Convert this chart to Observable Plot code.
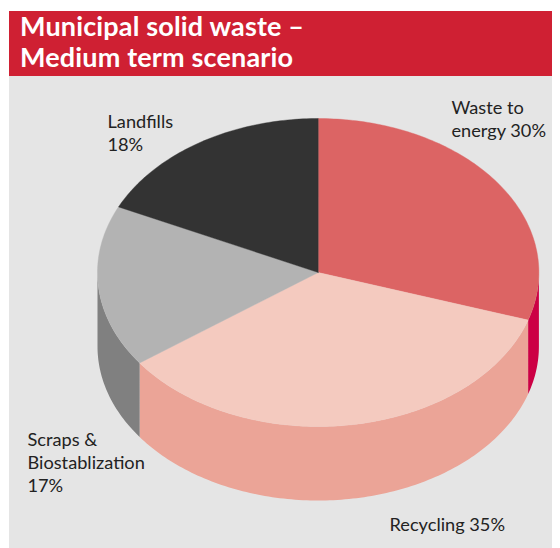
<!DOCTYPE html>
<html>
<head>
<meta charset="utf-8">
<script src="https://cdn.jsdelivr.net/npm/d3@7"></script>
<script src="https://cdn.jsdelivr.net/npm/@observablehq/plot@0.6"></script>
<style>
  html, body { margin: 0; padding: 0; background: #fff; }
  #frame { position: absolute; left: 9px; top: 11px; width: 543px; height: 537px; background: #e5e5e5; }
  #title { box-sizing: border-box; height: 65px; padding: 0 0 0 11px; background: #cf2033; color: #fff;
           font: 700 27px/30.5px Lato, sans-serif; letter-spacing: 0.15px; }
  #chart svg { display: block; background: transparent; }
</style>
</head>
<body>
<div id="frame">
  <div id="title">Municipal solid waste –<br>Medium term scenario</div>
  <div id="chart"></div>
</div>
<script>
// Shares of municipal solid waste, clockwise from twelve o'clock
const categories = ["Waste to energy", "Recycling", "Scraps & Biostablization", "Landfills"];
const shares = [30, 35, 17, 18];
const topColors = ["#dc6464", "#f4cabf", "#b3b3b3", "#333333"];
const sideColors = ["#cc0044", "#eba497", "#808080", "#1f1f1f"];

// Label text and where each block starts, in panel pixels
const labelTexts = [
  `Waste to\nenergy ${shares[0]}%`,
  `Recycling ${shares[1]}%`,
  `Scraps &\nBiostablization\n${shares[2]}%`,
  `Landfills\n${shares[3]}%`
];
const labelX = [442, 380, 18, 98];
const labelY = [21, 438, 353, 35];

// Tilted-disc geometry, in panel pixels
const width = 543, height = 472;
const cx = 308.7, cy = 196, rx = 220.7, ry = 154, depth = 74;

const rim = (deg, drop = 0) => {
  const t = deg * Math.PI / 180;
  return {x: cx + rx * Math.sin(t), y: cy - ry * Math.cos(t) + drop};
};
const arc = (from, to, drop = 0) => {
  const pts = [];
  const n = Math.max(1, Math.ceil(Math.abs(to - from)));
  for (let i = 0; i <= n; ++i) pts.push(rim(from + (to - from) * i / n, drop));
  return pts;
};

const total = d3.sum(shares);
let running = 0;
const slices = shares.map((v, i) => {
  const start = running / total * 360;
  running += v;
  return {start, end: running / total * 360, top: topColors[i], side: sideColors[i], name: categories[i]};
});

// Top face wedge
const wedge = (s) => [{x: cx, y: cy}, ...arc(s.start, s.end), {x: cx, y: cy}];
// Outer wall of a slice: only the part on the near half of the disc is visible
const wall = (s) => {
  const a = Math.max(s.start, 90), b = Math.min(s.end, 270);
  return a < b ? [...arc(a, b), ...arc(b, a, depth)] : null;
};

const labels = labelTexts.map((text, i) => ({text, x: labelX[i], y: labelY[i]}));

const chart = Plot.plot({
  width, height,
  margin: 0,
  style: {background: "transparent", fontFamily: "Lato, sans-serif"},
  x: {domain: [0, width], range: [0, width], axis: null},
  y: {domain: [0, height], range: [0, height], axis: null},
  marks: [
    ...slices.filter(wall).map((s) =>
      Plot.line(wall(s), {x: "x", y: "y", fill: s.side, stroke: "none", curve: "linear"})),
    ...slices.map((s) =>
      Plot.line(wedge(s), {x: "x", y: "y", fill: s.top, stroke: s.top, strokeWidth: 0.4, curve: "linear"})),
    Plot.text(labels, {
      x: "x", y: "y", text: "text",
      textAnchor: "start", lineAnchor: "top", lineHeight: 1.27,
      fontSize: 18.2, fill: "#222"
    })
  ]
});
document.getElementById("chart").append(chart);
</script>
</body>
</html>
